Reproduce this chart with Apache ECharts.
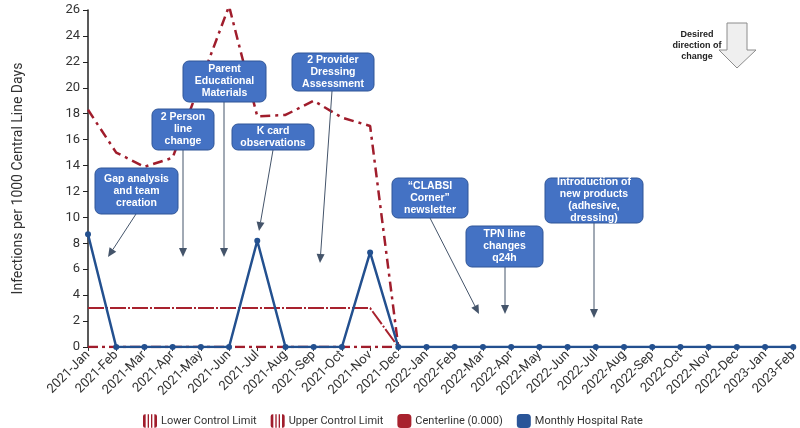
<!DOCTYPE html>
<html>
<head>
<meta charset="utf-8">
<script src="https://cdn.jsdelivr.net/npm/echarts@6/dist/echarts.min.js"></script>
<style>
  html, body { margin: 0; padding: 0; background: #fff; }
  #chart { width: 800px; height: 428px; }
</style>
</head>
<body>
<div id="chart"></div>
<script>
// categories
var months = ['2021-Jan', '2021-Feb', '2021-Mar', '2021-Apr', '2021-May', '2021-Jun', '2021-Jul', '2021-Aug',
  '2021-Sep', '2021-Oct', '2021-Nov', '2021-Dec', '2022-Jan', '2022-Feb', '2022-Mar', '2022-Apr', '2022-May',
  '2022-Jun', '2022-Jul', '2022-Aug', '2022-Sep', '2022-Oct', '2022-Nov', '2022-Dec', '2023-Jan', '2023-Feb']

// series values
var monthlyRate = [8.7, 0, 0, 0, 0, 0, 8.2, 0, 0, 0, 7.3, 0, 0, 0, 0, 0, 0, 0, 0, 0, 0, 0, 0, 0, 0, 0]
var upperLimit = [18.3, 15.0, 13.9, 14.6, 20.5, 26.3, 17.8, 17.9, 19.0, 17.7, 17.05, 0]
var lowerLimit = [0, 0, 0, 0, 0, 0, 0, 0, 0, 0, 0, 0]
var centerline = [3, 3, 3, 3, 3, 3, 3, 3, 3, 3, 3, 0, 0, 0, 0, 0, 0, 0, 0, 0, 0, 0, 0, 0, 0, 0]

// y ticks
var yMin = 0
var yMax = 26
var yStep = 2

// annotations: text, box [x, y, w, h], arrow [x1, y1, x2, y2]
var notes = [
  { text: 'Gap analysis\nand team\ncreation', box: [95, 168, 83, 46], arrow: [136, 214, 108, 257] },
  { text: '2 Person\nline\nchange', box: [152, 109, 62, 41], arrow: [183, 150, 183, 257] },
  { text: 'Parent\nEducational\nMaterials', box: [183, 61, 83, 41], arrow: [224, 102, 224, 257] },
  { text: 'K card\nobservations', box: [232, 124, 82, 26], arrow: [273, 150, 259, 231] },
  { text: '2 Provider\nDressing\nAssessment', box: [292, 53, 82, 38], arrow: [332, 91, 320, 263] },
  { text: '\u201cCLABSI\nCorner\u201d\nnewsletter', box: [392, 178, 76, 40], arrow: [430, 218, 479, 314] },
  { text: 'TPN line\nchanges\nq24h', box: [466, 226, 77, 41], arrow: [505, 267, 505, 314] },
  { text: 'Introduction of\nnew products\n(adhesive,\ndressing)', box: [545, 178, 98, 45], arrow: [594, 223, 594, 318] }
]

var limitIcon = 'path://M3,0 L4,0 L4,20 L3,20 Q0,20 0,17 L0,3 Q0,0 3,0 Z M7,0 L9,0 L9,20 L7,20 Z M12,0 L14,0 L14,20 L12,20 Z M17,0 L18,0 Q21,0 21,3 L21,17 Q21,20 18,20 L17,20 Z'

// 注释框和箭头
function buildNotes() {
  var els = []
  notes.forEach(function (n) {
    var a = n.arrow
    var ang = Math.atan2(a[3] - a[1], a[2] - a[0])
    var L = 9, W = 4
    var bx = a[2] - L * Math.cos(ang), by = a[3] - L * Math.sin(ang)
    var px = -Math.sin(ang) * W, py = Math.cos(ang) * W
    els.push({
      type: 'line', z: 10,
      shape: { x1: a[0], y1: a[1], x2: bx, y2: by },
      style: { stroke: '#44546a', lineWidth: 1 }
    })
    els.push({
      type: 'polygon', z: 10,
      shape: { points: [[a[2], a[3]], [bx + px, by + py], [bx - px, by - py]] },
      style: { fill: '#44546a' }
    })
    els.push({
      type: 'rect', z: 11,
      shape: { x: n.box[0], y: n.box[1], width: n.box[2], height: n.box[3], r: 6 },
      style: { fill: '#4472c4', stroke: '#2f5597', lineWidth: 1 }
    })
    els.push({
      type: 'text', z: 12,
      x: n.box[0] + n.box[2] / 2, y: n.box[1] + n.box[3] / 2,
      style: {
        text: n.text, fill: '#fff', align: 'center', verticalAlign: 'middle',
        font: 'bold 10.5px "Liberation Sans", Arial, sans-serif', lineHeight: 12
      }
    })
  })
  // Desired direction of change
  els.push({
    type: 'polygon', z: 10,
    shape: { points: [[727, 23], [747, 23], [747, 50], [756, 50], [737, 68], [719, 50], [727, 50]] },
    style: { fill: '#efefef', stroke: '#8c8c8c', lineWidth: 1 }
  })
  els.push({
    type: 'text', z: 10, x: 697, y: 46,
    style: {
      text: 'Desired\ndirection of\nchange', fill: '#222', align: 'center', verticalAlign: 'middle',
      font: 'bold 9px "Liberation Sans", Arial, sans-serif', lineHeight: 11
    }
  })
  return els
}

var myChart = echarts.init(document.getElementById('chart'))
myChart.setOption({
  animation: false,
  textStyle: { fontFamily: 'Roboto, sans-serif' },
  grid: { left: 88, right: 6, top: 10, bottom: 81 },
  legend: {
    top: 409,
    left: 138,
    itemGap: 14,
    itemWidth: 14,
    itemHeight: 14,
    textStyle: { fontSize: 11, color: '#333', padding: [0, 0, 0, -1] },
    data: [
      { name: 'Lower Control Limit', icon: limitIcon, itemStyle: { color: '#a01d2c' } },
      { name: 'Upper Control Limit', icon: limitIcon, itemStyle: { color: '#a01d2c' } },
      { name: 'Centerline (0.000)', icon: 'roundRect', itemStyle: { color: '#a8222e' } },
      { name: 'Monthly Hospital Rate', icon: 'roundRect', itemStyle: { color: '#2a5598' } }
    ]
  },
  xAxis: {
    type: 'category',
    data: months,
    boundaryGap: false,
    axisLine: { show: false },
    axisTick: { show: true, alignWithLabel: true, length: 4, lineStyle: { color: '#333' } },
    axisLabel: { rotate: 45, fontSize: 13, color: '#333', margin: 6, interval: 0 }
  },
  yAxis: {
    type: 'value',
    min: yMin,
    max: yMax,
    interval: yStep,
    name: 'Infections per 1000 Central Line Days',
    nameLocation: 'middle',
    nameGap: 63,
    nameTextStyle: { fontSize: 14, color: '#333' },
    splitLine: { show: false },
    axisLine: { show: true, lineStyle: { color: '#222', width: 1.5 } },
    axisTick: { show: true, length: 5, lineStyle: { color: '#222' } },
    axisLabel: { fontSize: 13, color: '#333' }
  },
  series: [
    {
      name: 'Lower Control Limit',
      type: 'line',
      data: lowerLimit,
      symbol: 'none',
      lineStyle: { color: '#a01d2c', width: 2.5, type: [10, 4, 3, 4] },
      itemStyle: { color: '#a01d2c' },
      z: 2
    },
    {
      name: 'Upper Control Limit',
      type: 'line',
      data: upperLimit,
      symbol: 'none',
      lineStyle: { color: '#a01d2c', width: 2.5, type: [10, 5, 3, 5] },
      itemStyle: { color: '#a01d2c' },
      z: 2
    },
    {
      name: 'Centerline (0.000)',
      type: 'line',
      data: centerline,
      symbol: 'none',
      lineStyle: { color: '#a8222e', width: 2, type: [16, 2, 2, 2] },
      itemStyle: { color: '#a8222e' },
      z: 3
    },
    {
      name: 'Monthly Hospital Rate',
      type: 'line',
      data: monthlyRate,
      symbol: 'circle',
      symbolSize: 6,
      lineStyle: { color: '#23508f', width: 2.5 },
      itemStyle: { color: '#23508f' },
      z: 4
    }
  ],
  graphic: buildNotes()
})
</script>
</body>
</html>
